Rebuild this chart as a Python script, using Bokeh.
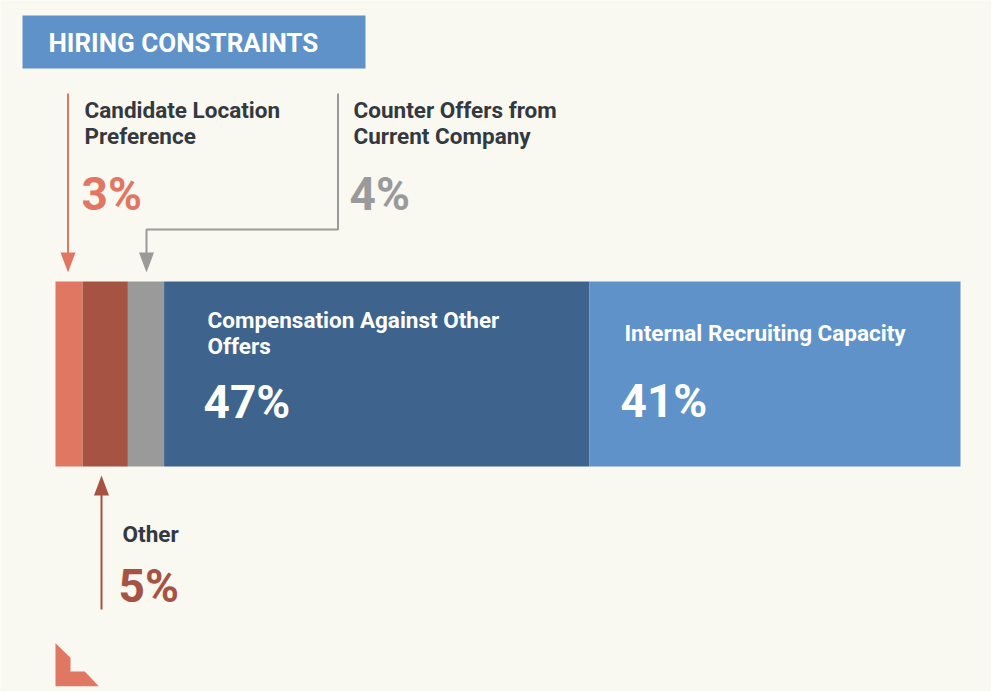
from bokeh.plotting import figure
from bokeh.models import Range1d, ColumnDataSource
from bokeh.core.properties import value
from bokeh.embed import file_html
from bokeh.resources import INLINE

# ---- data ----
categories = ["Candidate Location\nPreference", "Other",
              "Counter Offers from\nCurrent Company",
              "Compensation Against Other\nOffers", "Internal Recruiting Capacity"]
shares = [3, 5, 4, 47, 41]
colors = ["#E07763", "#A65344", "#9A9A9A", "#3E638C", "#5E92C8"]
title_text = "HIRING CONSTRAINTS"

# ---- layout helpers ----
W, H = 991, 691
BG = "#F9F8F1"
DARK = "#33393F"
FONT = value("Roboto")
PX_PER_PCT = 9.05
X0 = 55  # px of 0 %


def X(px):
    return (px - X0) / PX_PER_PCT


p = figure(width=W, height=H, output_backend="svg", toolbar_location=None,
           x_range=Range1d(X(0), X(W)), y_range=Range1d(H, 0),
           x_axis_type=None, y_axis_type=None, min_border=0,
           background_fill_color=BG, border_fill_color=BG, outline_line_color=None)

# ---- stacked bar ----
starts, ends, acc = [], [], 0
for s in shares:
    starts.append(acc)
    acc += s
    ends.append(acc)
src = ColumnDataSource(dict(left=starts, right=ends, color=colors))
p.hbar(y=373.5, height=185, left="left", right="right", fill_color="color",
       line_color=None, source=src)

# ---- title box ----
p.quad(left=X(22), right=X(365), top=15, bottom=68, fill_color="#5E92C8", line_color=None)
p.text(x=[X(48)], y=[42], text=[title_text], text_font=FONT, text_font_style="bold",
       text_font_size="26px", text_color="white", text_baseline="middle")

pct = [f"{v}%" for v in shares]

# label positions (px)
lab_x = [84, 122, 353, 207, 624]
lab_y = [122.5, 533, 122.5, 332.5, 332]
lab_c = [DARK, DARK, DARK, "white", "white"]
num_x = [81, 118, 349, 203, 620]
num_y = [193, 585, 193, 401, 400]
num_c = [colors[0], colors[1], colors[2], "white", "white"]

p.text(x=[X(v) for v in lab_x], y=lab_y, text=categories, text_font=FONT,
       text_font_style="bold", text_font_size="22.5px", text_color=lab_c,
       text_baseline="middle", text_line_height=1.0)
p.text(x=[X(v) for v in num_x], y=num_y, text=pct, text_font=FONT,
       text_font_style="bold", text_font_size="46px", text_color=num_c,
       text_baseline="middle")

# ---- arrows ----
LW = 2
p.line([X(67.5), X(67.5)], [93, 256], line_color=colors[0], line_width=LW)
p.line([X(337.5), X(337.5), X(146), X(146)], [93, 229, 229, 256],
       line_color=colors[2], line_width=LW)
p.line([X(101), X(101)], [609, 490], line_color=colors[1], line_width=LW)

heads_x = [[X(60), X(75), X(67.5)], [X(138.5), X(153.5), X(146)], [X(93.5), X(108.5), X(101)]]
heads_y = [[252, 252, 272], [252, 252, 272], [495, 495, 475]]
p.patches(xs=heads_x, ys=heads_y, fill_color=[colors[0], colors[2], colors[1]], line_color=None)

# ---- corner logo ----
p.patch(x=[X(55), X(55), X(98.3), X(84.3), X(70), X(70)],
        y=[642.7, 685.7, 685.7, 671, 671, 657.3],
        fill_color=colors[0], line_color=None)

html = file_html(p, INLINE)
html = html.replace("<body", f'<body style="background-color:{BG};margin:0;"', 1)
open("out.html", "w").write(html)
